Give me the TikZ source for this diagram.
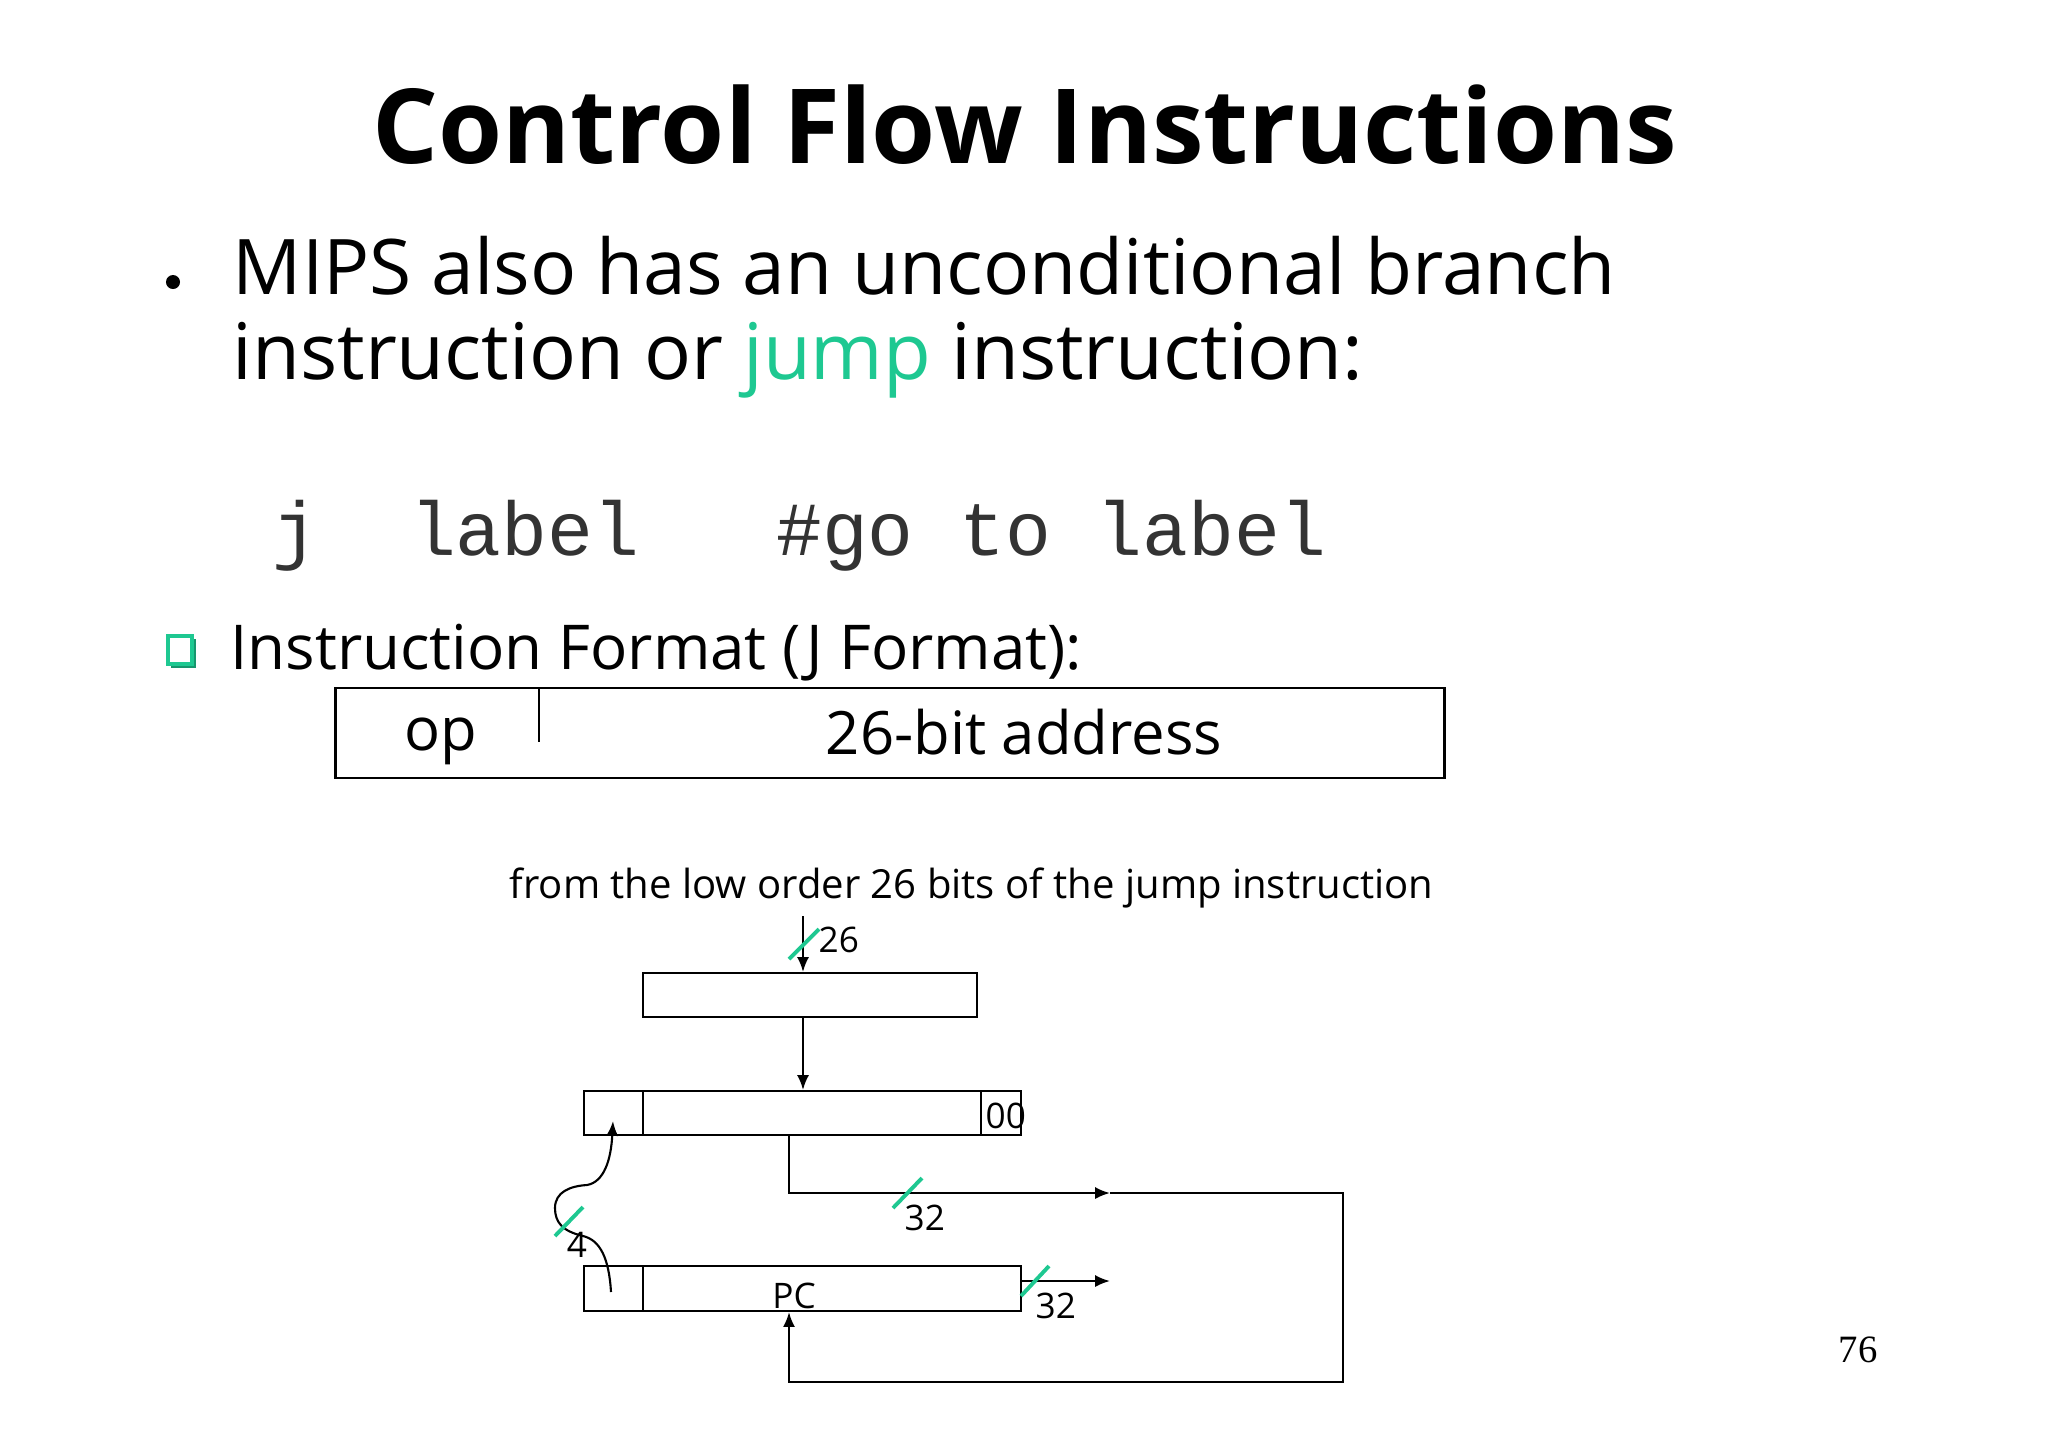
\documentclass[tikz,border=0pt]{standalone}
\usepackage{fontspec}
\usepackage{graphicx}
\setmainfont{Open Sans}
\setmonofont{Liberation Mono}
\newfontfamily\pagefont{Liberation Serif}
\usetikzlibrary{arrows.meta}
\definecolor{jgreen}{RGB}{30,200,145}

\begin{document}
\begin{tikzpicture}[>={Latex[length=4.2pt,width=3.4pt]}, x=0.01cm, y=-0.01cm,
  reg/.style={draw, line width=0.6pt, inner sep=0pt, minimum height=0.44cm},
  lbl/.style={inner sep=0pt, font=\fontsize{10pt}{12pt}\selectfont},
  slash/.style={jgreen, line width=1.1pt},
  wire/.style={line width=0.6pt}]

\useasboundingbox (0,0) rectangle (2048,1447);

% slide text
\node[anchor=base west, inner sep=0pt] (title) at (372,163)
  {\resizebox{13.04cm}{!}{\bfseries Control Flow Instructions}};
\fill (173,282) circle (0.07cm);
\node[anchor=base west, inner sep=0pt] (line1) at (232,294)
  {\resizebox{13.82cm}{!}{MIPS also has an unconditional branch}};
\node[anchor=base west, inner sep=0pt] (line2) at (232,379)
  {\resizebox{11.3cm}{!}{instruction or \textcolor{jgreen}{jump} instruction:}};
\node[anchor=base west, inner sep=0pt, text=black!80,
      font=\ttfamily\fontsize{21.7pt}{26pt}\selectfont] (code) at (272,555)
  {j\ \ label\ \ \ \#go\ to\ label};

\fill[jgreen!75!black] (171,639) rectangle (196,668);
\draw[jgreen, line width=0.035cm, fill=white] (168,636) rectangle (192,664);
\node[anchor=base west, inner sep=0pt] (fmt) at (230,669)
  {\resizebox{8.51cm}{!}{Instruction Format (J Format):}};

% J format
\node[draw, line width=0.7pt, minimum width=11.08cm, minimum height=0.9cm] (jfmt) at (890,733) {};
\draw[line width=0.7pt] (539,688) -- (539,742);
\node[anchor=base, inner sep=0pt, font=\fontsize{17pt}{20pt}\selectfont] (op) at (441,750) {op};
\node[anchor=base, inner sep=0pt, font=\fontsize{17pt}{20pt}\selectfont] (addr) at (1024,754) {26-bit address};

% jump address datapath
\node[anchor=base west, inner sep=0pt] (from) at (509,898)
  {\resizebox{9.23cm}{!}{from the low order 26 bits of the jump instruction}};

\node[reg, minimum width=3.34cm] (ext) at (810,995) {};
\node[reg, minimum width=0.59cm] (hi) at (613.5,1113) {};
\node[reg, minimum width=3.38cm] (lo) at (812,1113) {};
\node[reg, minimum width=0.40cm] (zz) at (1001,1113) {};
\node[reg, minimum width=0.59cm, minimum height=0.45cm] (pchi) at (613.5,1288.5) {};
\node[reg, minimum width=3.78cm, minimum height=0.45cm] (pclo) at (832,1288.5) {};

\node[lbl, anchor=base west] (zzt) at (985,1128) {00};
\node[lbl, anchor=base] (pct) at (794,1308) {PC};
\node[lbl, anchor=base west] (n26) at (818,952) {26};
\node[lbl, anchor=base west] (n32a) at (904,1230) {32};
\node[lbl, anchor=base west] (n32b) at (1035,1318) {32};
\node[lbl, anchor=base] (n4) at (577,1257) {4};

\coordinate (src) at (803,916);
\coordinate (tap) at (789,1193);
\coordinate (j32) at (1110,1193);
\coordinate (fb) at (1343,1382);
\coordinate (pco) at (1110,1281);
\coordinate (c4a) at (611,1292);
\coordinate (c4b) at (613,1121);

\draw[wire, ->] (src) -- (src |- ext.north);
\draw[wire, ->] (src |- ext.south) -- (src |- lo.north);
\draw[wire, ->] (tap |- lo.south) -- (tap) -- (j32);
\draw[wire, ->] (j32) -- (j32 -| fb) -- (fb) -- (fb -| tap) -- (tap |- pclo.south);
\draw[wire, ->] (pclo.east |- pco) -- (pco);
\draw[wire, ->] (c4a) .. controls (609,1258) and (600,1240) .. (583,1236)
  .. controls (562,1231) and (555,1222) .. (555,1208)
  .. controls (555,1192) and (570,1186) .. (587,1185)
  .. controls (604,1182) and (611,1160) .. (c4b);

% bus widths
\draw[slash] (789,959) -- (819,929);
\draw[slash] (893,1208) -- (922,1178);
\draw[slash] (1021,1296) -- (1049,1266);
\draw[slash] (555,1236) -- (583,1207);

\node[inner sep=0pt, anchor=base, font=\pagefont\fontsize{11pt}{13pt}\selectfont] (page) at (1858,1362) {76};

\end{tikzpicture}
\end{document}
